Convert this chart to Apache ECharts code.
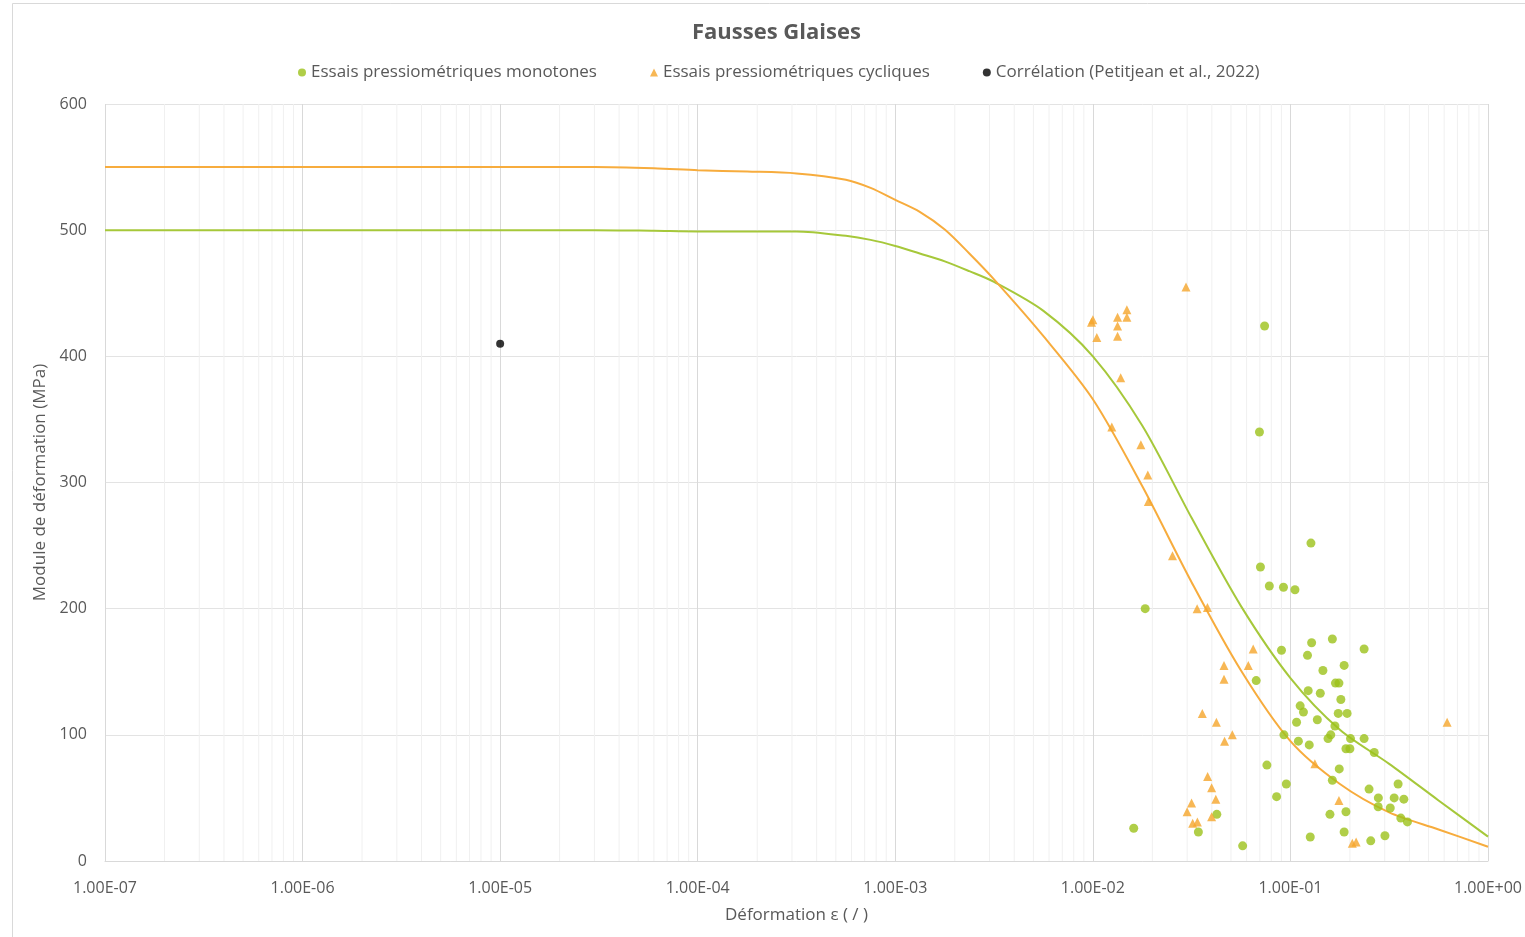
<!DOCTYPE html>
<html>
<head>
<meta charset="utf-8">
<title>Fausses Glaises</title>
<script src="https://cdn.jsdelivr.net/npm/echarts@6/dist/echarts.min.js"></script>
<style>
  html, body { margin: 0; padding: 0; background: #fff; }
  .chart { width: 1525px; height: 937px; }
</style>
</head>
<body>
<div class="chart"></div>
<script>
// points : [déformation, module (MPa)]
let monotones = [
  [0.0740, 424], [0.0697, 340], [0.0184, 200], [0.0705, 233], [0.0782, 218],
  [0.0922, 217], [0.1054, 215], [0.0901, 167], [0.0671, 143], [0.0927, 100],
  [0.0760, 76], [0.0953, 61], [0.0851, 51], [0.0424, 37], [0.0342, 23],
  [0.0161, 26], [0.0573, 12], [0.127, 252], [0.128, 173], [0.163, 176],
  [0.236, 168], [0.122, 163], [0.187, 155], [0.146, 151], [0.169, 141],
  [0.176, 141], [0.123, 135], [0.1416, 133], [0.180, 128], [0.112, 123],
  [0.1164, 118], [0.1746, 117], [0.1936, 117], [0.1074, 110], [0.1368, 112],
  [0.168, 107], [0.160, 100], [0.155, 97], [0.2014, 97], [0.236, 97],
  [0.1097, 95], [0.1245, 92], [0.191, 89], [0.200, 89], [0.2655, 86],
  [0.1766, 73], [0.163, 64], [0.3507, 61], [0.250, 57], [0.2786, 50],
  [0.335, 50], [0.375, 49], [0.278, 43], [0.320, 42], [0.362, 34],
  [0.391, 31], [0.1585, 37], [0.191, 39], [0.126, 19], [0.187, 23],
  [0.255, 16], [0.3008, 20]
];

let cycliques = [
  [0.0296, 455], [0.01486, 437], [0.01486, 431], [0.01334, 431], [0.01334, 424],
  [0.01334, 416], [0.00984, 427], [0.0100, 429], [0.01047, 415], [0.01383, 383],
  [0.01247, 344], [0.0175, 330], [0.01897, 306], [0.0191, 285], [0.0253, 242],
  [0.0337, 200], [0.038, 201], [0.0648, 168], [0.0461, 155], [0.0612, 155],
  [0.0461, 144], [0.0358, 117], [0.0422, 110], [0.0508, 100], [0.0464, 95],
  [0.0381, 67], [0.0399, 58], [0.0419, 49], [0.0316, 46], [0.0300, 39],
  [0.0338, 31], [0.0320, 30], [0.0399, 35], [0.133, 77], [0.176, 48],
  [0.2057, 14], [0.215, 15], [0.621, 110]
];

let correlation = [[1e-5, 410]];

// courbes de tendance
let courbeX = [1e-7, 1e-6, 1e-5, 3e-5, 6e-5, 1e-4, 1.78e-4, 3.16e-4, 5.62e-4, 7.5e-4,
  1e-3, 1.33e-3, 1.78e-3, 2.37e-3, 3.16e-3, 5.62e-3, 1e-2, 1.78e-2, 3.16e-2, 5.62e-2,
  0.1, 0.178, 0.316, 0.562, 1];
let courbeMonotone = [500, 500, 500, 500, 499.5, 499, 499, 499, 495.5, 492.3,
  487.5, 481.5, 475.3, 467.5, 459, 436, 400, 345, 272, 202,
  145, 104, 77, 48, 19.3];
let courbeCyclique = [550, 550, 550, 550, 549, 547.5, 546.5, 545, 540, 533.5,
  524, 514.5, 500.5, 481.5, 461, 416, 366, 297, 221, 151,
  95, 61, 38.5, 25, 11.3];

let yTicks = [0, 100, 200, 300, 400, 500, 600];

~function () {
  let myChart = echarts.init(document.querySelector('.chart'));
  let vert = '#9cc21a';
  let orange = '#f5a52a';
  let gris = '#595959';
  let police = '"Open Sans", "Noto Sans", sans-serif';

  // lignes secondaires 2..9 de chaque décade (segments verticaux coupés par null)
  let mineures = [];
  for (let e = -7; e < 0; e++) {
    for (let k = 2; k <= 9; k++) {
      let v = k * Math.pow(10, e);
      mineures.push([v, yTicks[0]], [v, yTicks[yTicks.length - 1]], [v, null]);
    }
  }

  function sci(v) {
    let e = Math.round(Math.log10(v));
    let m = v / Math.pow(10, e);
    return m.toFixed(2) + 'E' + (e < 0 ? '-' : '+') + String(Math.abs(e)).padStart(2, '0');
  }

  let option = {
    backgroundColor: '#fff',
    textStyle: { fontFamily: police },
    title: {
      text: 'Fausses Glaises',
      left: 687,
      top: 17,
      textStyle: { fontSize: 22, fontWeight: 'bold', color: gris, fontFamily: police }
    },
    legend: {
      data: ['Essais pressiométriques monotones', 'Essais pressiométriques cycliques', 'Corrélation (Petitjean et al., 2022)'],
      top: 59,
      left: 293,
      itemGap: 53,
      itemWidth: 8,
      itemHeight: 8,
      textStyle: { fontSize: 17, color: gris, fontFamily: police }
    },
    graphic: [
      {
        type: 'rect',
        silent: true,
        shape: { x: 12.5, y: 3.5, width: 1530, height: 950 },
        style: { fill: 'none', stroke: '#d9d9d9', lineWidth: 1 }
      }
    ],
    grid: { left: 105, right: 33, top: 104, bottom: 76 },
    xAxis: {
      type: 'log',
      logBase: 10,
      min: 1e-7,
      max: 1,
      name: 'Déformation ε ( / )',
      nameLocation: 'middle',
      nameGap: 46,
      nameTextStyle: { fontSize: 17, color: gris },
      axisLine: { show: true, lineStyle: { color: '#d9d9d9' } },
      axisTick: { show: false },
      axisLabel: { color: gris, fontSize: 16, margin: 19, formatter: sci },
      splitLine: { show: true, lineStyle: { color: '#d9d9d9', width: 1 } }
    },
    yAxis: {
      type: 'value',
      min: yTicks[0],
      max: yTicks[yTicks.length - 1],
      interval: 100,
      name: 'Module de déformation (MPa)',
      nameLocation: 'middle',
      nameGap: 55,
      nameTextStyle: { fontSize: 17, color: gris },
      axisLine: { show: false },
      axisTick: { show: false },
      axisLabel: { color: gris, fontSize: 16, margin: 18 },
      splitLine: { show: true, lineStyle: { color: '#e3e3e3', width: 1 } }
    },
    series: [
      {
        name: 'grille',
        type: 'line',
        data: mineures,
        connectNulls: false,
        showSymbol: false,
        silent: true,
        z: 0,
        lineStyle: { color: '#f0f0f0', width: 1 },
        itemStyle: { color: '#f0f0f0' },
        emphasis: { disabled: true }
      },
      {
        name: 'Courbe monotone',
        type: 'line',
        data: courbeX.map((x, i) => [x, courbeMonotone[i]]),
        showSymbol: false,
        smooth: 0.3,
        silent: true,
        z: 2,
        lineStyle: { color: '#a6c83a', width: 2 },
        itemStyle: { color: '#a6c83a' }
      },
      {
        name: 'Courbe cyclique',
        type: 'line',
        data: courbeX.map((x, i) => [x, courbeCyclique[i]]),
        showSymbol: false,
        smooth: 0.3,
        silent: true,
        z: 2,
        lineStyle: { color: '#f7ac3d', width: 2 },
        itemStyle: { color: '#f7ac3d' }
      },
      {
        name: 'Essais pressiométriques monotones',
        type: 'scatter',
        data: monotones,
        symbol: 'circle',
        symbolSize: 9,
        z: 3,
        itemStyle: { color: vert }
      },
      {
        name: 'Essais pressiométriques cycliques',
        type: 'scatter',
        data: cycliques,
        symbol: 'triangle',
        symbolSize: 9,
        z: 4,
        itemStyle: { color: orange }
      },
      {
        name: 'Corrélation (Petitjean et al., 2022)',
        type: 'scatter',
        data: correlation,
        symbol: 'circle',
        symbolSize: 8,
        z: 4,
        itemStyle: { color: '#000' }
      }
    ]
  };
  myChart.setOption(option);
}();
</script>
</body>
</html>
